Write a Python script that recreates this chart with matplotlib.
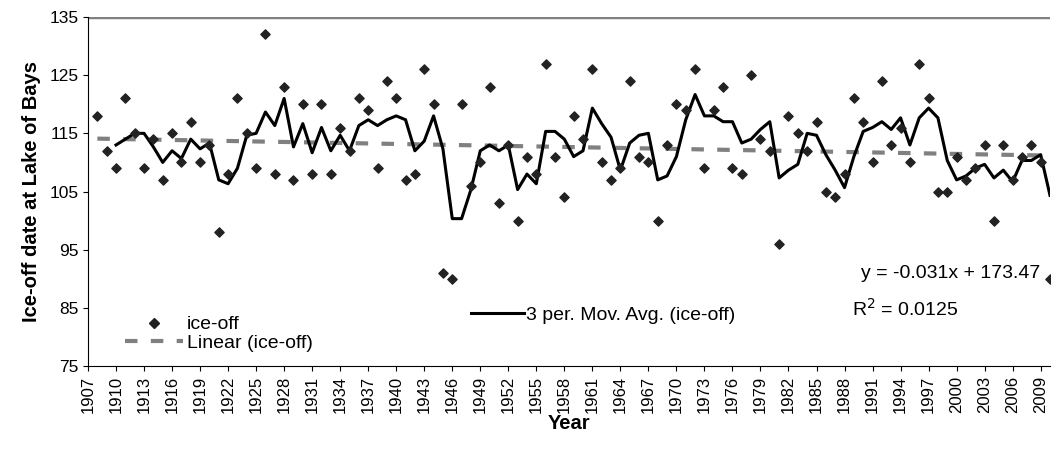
import numpy as np
import pandas as pd
import matplotlib
matplotlib.use("Agg")
import matplotlib.pyplot as plt
from matplotlib.lines import Line2D

plt.rcParams['font.family'] = ['Liberation Sans', 'DejaVu Sans']

years = list(range(1908, 2011))
ice_off = [118, 112, 109, 121, 115, 109, 114, 107, 115, 110, 117, 110, 113, 98, 108,
           121, 115, 109, 132, 108, 123, 107, 120, 108, 120, 108, 116, 112, 121, 119,
           109, 124, 121, 107, 108,
           126, 120, 91, 90, 120, 106, 110, 123, 103, 113, 100, 111, 108, 127, 111,
           104, 118, 114, 126, 110, 107, 109, 124, 111, 110, 100, 113, 120, 119, 126,
           109, 119, 123, 109,
           108, 125, 114, 112, 96, 118, 115, 112, 117, 105, 104, 108, 121, 117, 110,
           124, 113, 116, 110, 127, 121, 105, 105, 111, 107, 109, 113, 100, 113, 107,
           111, 113, 110, 90]
x_ticks = list(range(1907, 2010, 3))

s = pd.Series(ice_off, index=years, dtype=float)
ma = s.rolling(3).mean()
coef = np.polyfit(years, ice_off, 1)

fig = plt.figure(figsize=(10.56, 4.55), dpi=100)
ax = fig.add_axes([88/1056, 1-366/455, (1050-88)/1056, (366-17)/455])
ax.plot(years, np.polyval(coef, years), color='#808080', lw=3, ls=(0, (3, 3.2)), zorder=1)
ax.plot(ma.index, ma.values, color='black', lw=2.2, zorder=2)
ax.scatter(years, ice_off, marker='D', s=22, color='#222222', zorder=3, clip_on=True)

ax.set_xlim(1907, 2010)
ax.set_ylim(75, 135)
ax.set_yticks(range(75, 136, 10))
ax.set_xticks(x_ticks)
ax.set_xticklabels([str(t) for t in x_ticks], rotation=90, fontsize=12)
ax.tick_params(axis='y', labelsize=12.5)
ax.axhline(135, color='#808080', lw=2.5)
for sp in ['top', 'right']:
    ax.spines[sp].set_visible(False)
ax.set_xlabel('Year', fontsize=14.5, fontweight='bold', labelpad=1)
ax.set_ylabel('Ice-off date at Lake of Bays', fontsize=14.5, fontweight='bold', labelpad=6)

h1 = [Line2D([], [], marker='D', ls='none', color='#222222', markersize=5),
      Line2D([], [], color='#808080', lw=3, ls=(0, (3, 3.2)))]
leg1 = ax.legend(h1, ['ice-off', 'Linear (ice-off)'], loc='lower left',
                 bbox_to_anchor=(0.02, -0.01), frameon=False, fontsize=14,
                 handlelength=3, labelspacing=0.05, handletextpad=0.2)
ax.add_artist(leg1)
h2 = [Line2D([], [], color='black', lw=2.2)]
ax.legend(h2, ['3 per. Mov. Avg. (ice-off)'], loc='lower left',
          bbox_to_anchor=(0.38, 0.07), frameon=False, fontsize=14,
          handlelength=2.7, handletextpad=0.1)
ax.text(0.99, 0.265, 'y = -0.031x + 173.47', transform=ax.transAxes,
        ha='right', va='center', fontsize=14)
ax.text(0.905, 0.165, r'R$^2$ = 0.0125', transform=ax.transAxes,
        ha='right', va='center', fontsize=14)

fig.savefig('out.png', dpi=100)
